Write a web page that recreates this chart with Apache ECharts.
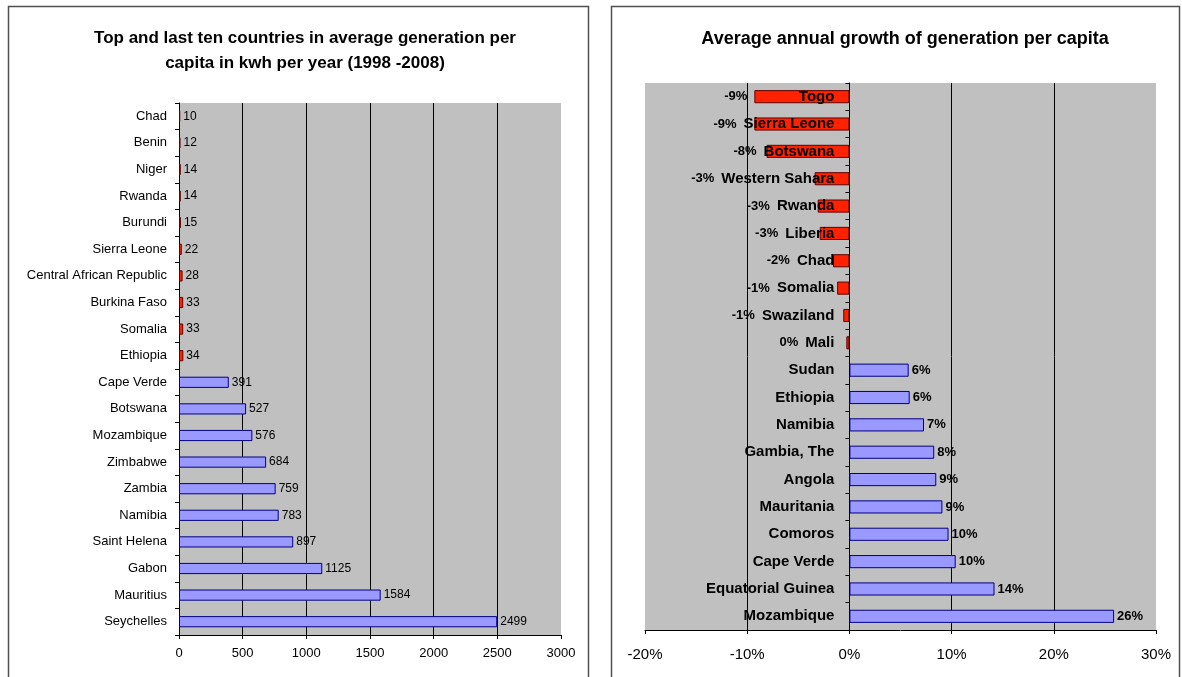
<!DOCTYPE html>
<html>
<head>
<meta charset="utf-8">
<script src="https://cdn.jsdelivr.net/npm/echarts@6/dist/echarts.min.js"></script>
<style>
  html, body { margin: 0; background: #fff; }
  #chart { width: 1182px; height: 677px; }
</style>
</head>
<body>
<div id="chart"></div>
<script>
// left chart: kwh per capita per year
const lastTenNames = ['Chad', 'Benin', 'Niger', 'Rwanda', 'Burundi', 'Sierra Leone',
  'Central African Republic', 'Burkina Faso', 'Somalia', 'Ethiopia']
const lastTenValues = [10, 12, 14, 14, 15, 22, 28, 33, 33, 34]
const topTenNames = ['Cape Verde', 'Botswana', 'Mozambique', 'Zimbabwe', 'Zambia',
  'Namibia', 'Saint Helena', 'Gabon', 'Mauritius', 'Seychelles']
const topTenValues = [391, 527, 576, 684, 759, 783, 897, 1125, 1584, 2499]

// right chart: average annual growth, percent
const fallingNames = ['Togo', 'Sierra Leone', 'Botswana', 'Western Sahara', 'Rwanda',
  'Liberia', 'Chad', 'Somalia', 'Swaziland', 'Mali']
const fallingValues = [-9.3, -9.3, -8.1, -3.4, -3.1, -2.9, -1.6, -1.2, -0.6, -0.3]
const risingNames = ['Sudan', 'Ethiopia', 'Namibia', 'Gambia, The', 'Angola',
  'Mauritania', 'Comoros', 'Cape Verde', 'Equatorial Guinea', 'Mozambique']
const risingValues = [5.8, 5.9, 7.3, 8.3, 8.5, 9.1, 9.7, 10.4, 14.2, 25.9]

const FONT = "'Liberation Sans', Arial, sans-serif"
const PLOT_BG = '#c0c0c0'
const BLUE = '#9999ff'
const BLUE_EDGE = '#000080'
const RED = '#ff2200'
const RED_EDGE = '#600000'
const NAME_SIZE = 15
const NAME_MARGIN = 15
const RIGHT_GRID_LEFT = 645

const measureCtx = document.createElement('canvas').getContext('2d')
function textWidth(str, font) {
  measureCtx.font = font
  return measureCtx.measureText(str).width
}

const leftCats = lastTenNames.concat(topTenNames)
const rightCats = fallingNames.concat(risingNames)
const blank = (arr) => arr.map(() => '-')

const chart = echarts.init(document.getElementById('chart'))

chart.setOption({
  animation: false,
  textStyle: { fontFamily: FONT, color: '#000' },
  title: [
    {
      text: 'Top and last ten countries in average generation per\ncapita in kwh per year (1998 -2008)',
      left: 300,
      top: 21,
      textAlign: 'center',
      textStyle: { fontFamily: FONT, fontSize: 17, fontWeight: 'bold', lineHeight: 25, color: '#000' },
    },
    {
      text: 'Average annual growth of generation per capita',
      left: 900,
      top: 25,
      textAlign: 'center',
      textStyle: { fontFamily: FONT, fontSize: 18, fontWeight: 'bold', color: '#000' },
    },
  ],
  graphic: [
    { type: 'rect', shape: { x: 8.5, y: 6.5, width: 580, height: 700 },
      style: { fill: 'none', stroke: '#505050', lineWidth: 1.5 } },
    { type: 'rect', shape: { x: 611.5, y: 6.5, width: 568, height: 700 },
      style: { fill: 'none', stroke: '#505050', lineWidth: 1.5 } },
  ],
  grid: [
    { left: 179, right: 621, top: 103, bottom: 42, show: true, backgroundColor: PLOT_BG, borderWidth: 0 },
    { left: RIGHT_GRID_LEFT, right: 26, top: 83, bottom: 47, show: true, backgroundColor: PLOT_BG, borderWidth: 0 },
  ],
  xAxis: [
    {
      gridIndex: 0,
      type: 'value',
      min: 0,
      max: 3000,
      interval: 500,
      axisLine: { show: true, lineStyle: { color: '#000' } },
      axisTick: { show: true, length: 4, lineStyle: { color: '#000' } },
      axisLabel: { fontSize: 13, color: '#000', margin: 12, formatter: (v) => String(v) },
      splitLine: { show: true, showMinLine: false, showMaxLine: false, lineStyle: { color: '#000', width: 1 } },
    },
    {
      gridIndex: 1,
      type: 'value',
      min: -20,
      max: 30,
      interval: 10,
      axisLine: { show: true, onZero: false, lineStyle: { color: '#000' } },
      axisTick: { show: true, length: 4, lineStyle: { color: '#000' } },
      axisLabel: { fontSize: 15, color: '#000', margin: 17, formatter: '{value}%' },
      splitLine: { show: true, showMinLine: false, showMaxLine: false, lineStyle: { color: '#000', width: 1 } },
    },
  ],
  yAxis: [
    {
      gridIndex: 0,
      type: 'category',
      inverse: true,
      data: leftCats,
      axisLine: { show: true, lineStyle: { color: '#000' } },
      axisTick: { show: true, length: 4, lineStyle: { color: '#000' } },
      axisLabel: { fontSize: 13, color: '#000', margin: 12 },
      splitLine: { show: false },
    },
    {
      gridIndex: 1,
      type: 'category',
      inverse: true,
      data: rightCats,
      z: 3,
      axisLine: { show: true, onZero: true, lineStyle: { color: '#000' } },
      axisTick: { show: true, length: 4, lineStyle: { color: '#000' } },
      axisLabel: { fontSize: NAME_SIZE, fontWeight: 'bold', color: '#000', margin: NAME_MARGIN },
      splitLine: { show: false },
    },
  ],
  series: [
    {
      name: 'last ten',
      type: 'bar',
      xAxisIndex: 0,
      yAxisIndex: 0,
      data: lastTenValues.concat(blank(topTenValues)),
      barCategoryGap: '58%',
      barGap: '-100%',
      itemStyle: { color: RED, borderColor: RED_EDGE, borderWidth: 1 },
      label: { show: true, position: 'right', distance: 3, fontSize: 12, color: '#000' },
    },
    {
      name: 'top ten',
      type: 'bar',
      xAxisIndex: 0,
      yAxisIndex: 0,
      data: blank(lastTenValues).concat(topTenValues),
      barCategoryGap: '58%',
      barGap: '-100%',
      itemStyle: { color: BLUE, borderColor: BLUE_EDGE, borderWidth: 1 },
      label: { show: true, position: 'right', distance: 3, fontSize: 12, color: '#000' },
    },
    {
      name: 'falling',
      type: 'bar',
      xAxisIndex: 1,
      yAxisIndex: 1,
      data: fallingValues.concat(blank(risingValues)),
      barCategoryGap: '52%',
      barGap: '-100%',
      itemStyle: { color: RED, borderColor: RED_EDGE, borderWidth: 1 },
      label: {
        show: true,
        position: 'left',
        fontSize: 13,
        fontWeight: 'bold',
        color: '#000',
        formatter: (p) => Math.round(p.value) + '%',
      },
      // keep the value clear of both the bar end and the country name
      labelLayout: (p) => {
        const name = fallingNames[p.dataIndex]
        if (name == null) return {}
        const barLeft = Math.min(p.rect.x, p.rect.x + p.rect.width)
        const zeroX = Math.max(p.rect.x, p.rect.x + p.rect.width)
        const nameLeft = zeroX - NAME_MARGIN - textWidth(name, 'bold ' + NAME_SIZE + 'px ' + FONT)
        return {
          x: Math.min(barLeft, nameLeft) - 7,
          y: p.rect.y + p.rect.height / 2,
          align: 'right',
          verticalAlign: 'middle',
        }
      },
    },
    {
      name: 'rising',
      type: 'bar',
      xAxisIndex: 1,
      yAxisIndex: 1,
      data: blank(fallingValues).concat(risingValues),
      barCategoryGap: '52%',
      barGap: '-100%',
      itemStyle: { color: BLUE, borderColor: BLUE_EDGE, borderWidth: 1 },
      label: {
        show: true,
        position: 'right',
        distance: 3,
        fontSize: 13,
        fontWeight: 'bold',
        color: '#000',
        formatter: (p) => Math.round(p.value) + '%',
      },
    },
  ],
})

// category names sit against the zero line, not the plot edge
const zeroPx = chart.convertToPixel({ xAxisIndex: 1 }, 0)
chart.setOption({
  yAxis: [{}, { axisLabel: { margin: RIGHT_GRID_LEFT - zeroPx + NAME_MARGIN } }],
})
</script>
</body>
</html>
